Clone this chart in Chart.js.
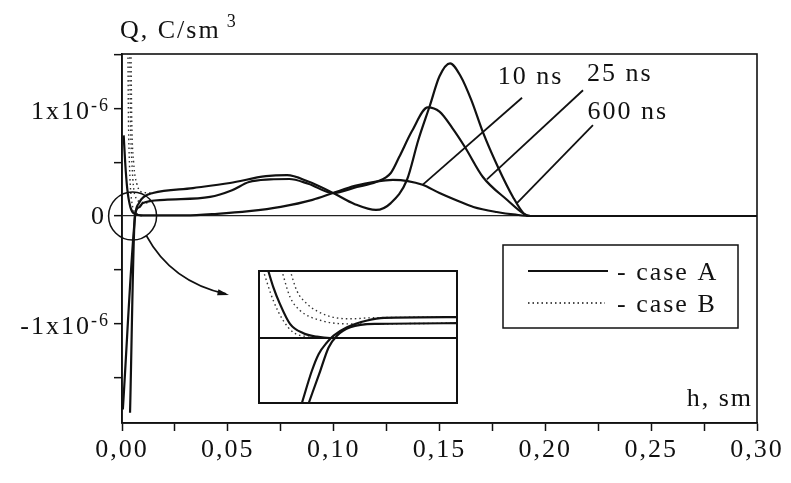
<!DOCTYPE html>
<html>
<head>
<meta charset="utf-8">
<script src="https://cdn.jsdelivr.net/npm/chart.js@4.4.1/dist/chart.umd.min.js"></script>
<style>
    html, body { margin: 0; padding: 0; background: #fff; }
    #wrap { position: relative; width: 791px; height: 483px; }
    #mainChart { position: absolute; left: 0; top: 0; }
    #insetChart { position: absolute; }
</style>
</head>
<body>
<div id="wrap">
    <canvas id="mainChart" width="791" height="483"></canvas>
    <canvas id="insetChart" width="200" height="134"></canvas>
</div>
<script>
// x: h, sm   y: Q in units of 1e-6 C/sm3
const xTickValues = [0, 0.025, 0.05, 0.075, 0.10, 0.125, 0.15, 0.175, 0.20, 0.225, 0.25, 0.275, 0.30];
const xTickLabels = ['0,00', '', '0,05', '', '0,10', '', '0,15', '', '0,20', '', '0,25', '', '0,30'];
const yTickValues = [-1.5, -1, -0.5, 0, 0.5, 1, 1.5];
const yLabelBase = ['', '-1x10', '', '0', '', '1x10', ''];
const yLabelExp = ['', '-6', '', '', '', '-6', ''];

// case A, 10 ns
const h10 = [0.0008, 0.0015, 0.0025, 0.004, 0.006, 0.01, 0.03, 0.045, 0.06, 0.075, 0.09, 0.0997, 0.11, 0.12, 0.128, 0.135, 0.142, 0.15, 0.16, 0.166, 0.177, 0.186, 0.193, 0.30];
const q10 = [0.75, 0.5, 0.25, 0.08, 0.02, 0.005, 0.005, 0.02, 0.045, 0.085, 0.15, 0.214, 0.28, 0.32, 0.335, 0.325, 0.29, 0.214, 0.13, 0.084, 0.037, 0.012, 0, 0];

// case A, 25 ns
const h25 = [0.0038, 0.0061, 0.008, 0.0099, 0.02, 0.0416, 0.052, 0.06, 0.07, 0.079, 0.088, 0.0997, 0.111, 0.12, 0.127, 0.131, 0.137, 0.1445, 0.15, 0.156, 0.162, 0.1705, 0.182, 0.19, 0.193, 0.30];
const q25 = [-1.83, 0, 0.08, 0.12, 0.15, 0.177, 0.24, 0.316, 0.34, 0.344, 0.30, 0.214, 0.27, 0.316, 0.40, 0.55, 0.79, 1.01, 0.97, 0.82, 0.642, 0.363, 0.149, 0.019, 0, 0];

// case A, 600 ns
const h600 = [0.0004, 0.0062, 0.008, 0.0105, 0.0146, 0.0335, 0.051, 0.068, 0.078, 0.088, 0.0997, 0.11, 0.12, 0.127, 0.1346, 0.14, 0.1455, 0.15, 0.155, 0.16, 0.165, 0.1705, 0.1776, 0.1847, 0.19, 0.193, 0.30];
const q600 = [-1.8, 0, 0.12, 0.18, 0.214, 0.26, 0.307, 0.37, 0.38, 0.32, 0.214, 0.11, 0.056, 0.12, 0.335, 0.707, 1.03, 1.30, 1.42, 1.30, 1.08, 0.78, 0.456, 0.177, 0.019, 0, 0.0];

// case B near the origin
const hB1 = [0.0028, 0.003, 0.0035, 0.0045, 0.007, 0.01];
const qB1 = [1.6, 1.0, 0.5, 0.15, 0.02, 0];
const hB2 = [0.0036, 0.004, 0.0048, 0.006, 0.009, 0.012];
const qB2 = [1.6, 0.9, 0.45, 0.2, 0.13, 0.12];
const hB3 = [0.0042, 0.0046, 0.0055, 0.007, 0.01, 0.0146];
const qB3 = [1.6, 0.9, 0.5, 0.3, 0.22, 0.214];

// inset (magnified view of the circled region)
const insetZeroX = [0, 100];
const insetZeroY = [0, 0];
const insetA1x = [5.0, 7.6, 10.9, 16, 22.7, 29.4, 36.1, 100];
const insetA1y = [101, 76, 51, 21, 7, 2, 0, 0];
const insetA2x = [21.8, 26.9, 30.3, 34.5, 37.8, 44.5, 54.6, 63, 100];
const insetA2y = [-98, -49, -24, -6.5, 3.5, 16, 26, 30, 31];
const insetA3x = [25.2, 31.1, 35.3, 39.5, 46.2, 59.7, 100];
const insetA3y = [-98, -49, -14, 3.5, 16, 21, 22];
const insetB1x = [2.5, 7.6, 12.6, 17.6, 24.4, 32.8, 100];
const insetB1y = [101, 56, 26, 8.5, 2, 0, 0];
const insetB2x = [11.8, 16, 21, 32.8, 46.2, 100];
const insetB2y = [101, 61, 41, 25, 21, 22];
const insetB3x = [16, 19.3, 24.4, 34.5, 46.2, 56.3, 100];
const insetB3y = [101, 71, 51, 33.5, 28.5, 30, 31];

// curve labels: leader start (on curve), leader end, text centre
const annLabels = ['10 ns', '25 ns', '600 ns'];
const annStart = [[0.142, 0.29], [0.1724, 0.34], [0.1866, 0.12]];
const annEnd = [[0.189, 1.10], [0.2178, 1.17], [0.2225, 0.846]];
const annText = [[0.193, 1.29], [0.2352, 1.32], [0.239, 0.967]];

const INK = '#111';
const SERIF = "'Liberation Serif', 'Times New Roman', serif";
const INSET = { left: 258, top: 270, width: 200, height: 134 };

Chart.defaults.font.family = SERIF;
Chart.defaults.color = INK;

function pts(xs, ys) {
    return xs.map((v, i) => ({ x: v, y: ys[i] }));
}

function solid(label, xs, ys) {
    return { label: label, data: pts(xs, ys), borderColor: INK, borderWidth: 2.2, pointRadius: 0, fill: false, cubicInterpolationMode: 'monotone' };
}

function dotted(label, xs, ys) {
    return { label: label, data: pts(xs, ys), borderColor: '#333', borderWidth: 1.4, borderDash: [1.5, 3], pointRadius: 0, fill: false, cubicInterpolationMode: 'monotone' };
}

const mainDecor = {
    id: 'mainDecor',
    beforeDraw(chart) {
        chart.ctx.letterSpacing = '2px';
    },
    afterDraw(chart) {
        const { ctx, chartArea: a, scales: { x, y } } = chart;
        ctx.save();
        ctx.letterSpacing = '2px';
        ctx.strokeStyle = INK;
        ctx.fillStyle = INK;
        ctx.lineWidth = 1.6;
        ctx.strokeRect(a.left, a.top, a.right - a.left, a.bottom - a.top);

        // y tick labels with superscripts
        yTickValues.forEach((v, i) => {
            if (!yLabelBase[i]) return;
            const py = y.getPixelForValue(v);
            let right = a.left - 14;
            ctx.textAlign = 'right';
            if (yLabelExp[i]) {
                ctx.font = '18px ' + SERIF;
                ctx.fillText(yLabelExp[i], right + 2, py + 3);
                right -= ctx.measureText(yLabelExp[i]).width;
                ctx.font = '26px ' + SERIF;
                ctx.fillText(yLabelBase[i], right + 2, py + 11);
            } else {
                ctx.font = '26px ' + SERIF;
                ctx.fillText(yLabelBase[i], right - 2, py + 8);
            }
        });

        // axis titles
        ctx.textAlign = 'left';
        ctx.font = '26px ' + SERIF;
        ctx.fillText('Q, C/sm', a.left - 2, a.top - 16);
        const tw = ctx.measureText('Q, C/sm').width;
        ctx.font = '18px ' + SERIF;
        ctx.fillText('3', a.left - 2 + tw + 6, a.top - 27);
        ctx.textAlign = 'right';
        ctx.font = '26px ' + SERIF;
        ctx.fillText('h, sm', a.right - 4, a.bottom - 17);

        // curve labels with leader lines
        ctx.lineWidth = 1.8;
        annLabels.forEach((t, i) => {
            ctx.beginPath();
            ctx.moveTo(x.getPixelForValue(annStart[i][0]), y.getPixelForValue(annStart[i][1]));
            ctx.lineTo(x.getPixelForValue(annEnd[i][0]), y.getPixelForValue(annEnd[i][1]));
            ctx.stroke();
            ctx.textAlign = 'center';
            ctx.textBaseline = 'middle';
            ctx.fillText(t, x.getPixelForValue(annText[i][0]), y.getPixelForValue(annText[i][1]));
        });
        ctx.textBaseline = 'alphabetic';

        // legend box
        const lb = { left: a.right - 254, top: a.top + 191, w: 235, h: 83 };
        ctx.lineWidth = 1.5;
        ctx.strokeRect(lb.left, lb.top, lb.w, lb.h);
        ctx.textAlign = 'left';
        ctx.lineWidth = 1.8;
        ctx.beginPath();
        ctx.moveTo(lb.left + 25, lb.top + 26);
        ctx.lineTo(lb.left + 105, lb.top + 26);
        ctx.stroke();
        ctx.fillText('- case A', lb.left + 114, lb.top + 35);
        ctx.lineWidth = 1.3;
        ctx.setLineDash([1.5, 3]);
        ctx.beginPath();
        ctx.moveTo(lb.left + 25, lb.top + 58);
        ctx.lineTo(lb.left + 102, lb.top + 58);
        ctx.stroke();
        ctx.setLineDash([]);
        ctx.fillText('- case B', lb.left + 114, lb.top + 67);

        // circle around the origin and arrow to the inset
        const cx = x.getPixelForValue(0.005);
        const cy = y.getPixelForValue(0);
        const r = 24;
        ctx.lineWidth = 1.5;
        ctx.beginPath();
        ctx.arc(cx, cy, r, 0, Math.PI * 2);
        ctx.stroke();
        const ang = 55 * Math.PI / 180;
        const sx = cx + r * Math.cos(ang), sy = cy + r * Math.sin(ang);
        const ex = INSET.left - 32, ey = INSET.top + 24;
        const qx = sx + 25, qy = ey - 12;
        ctx.lineWidth = 1.8;
        ctx.beginPath();
        ctx.moveTo(sx, sy);
        ctx.quadraticCurveTo(qx, qy, ex, ey);
        ctx.stroke();
        const dir = Math.atan2(ey - qy, ex - qx);
        ctx.beginPath();
        ctx.moveTo(ex + 3, ey + 1);
        ctx.lineTo(ex - 9 * Math.cos(dir - 0.35), ey - 9 * Math.sin(dir - 0.35));
        ctx.lineTo(ex - 9 * Math.cos(dir + 0.35), ey - 9 * Math.sin(dir + 0.35));
        ctx.closePath();
        ctx.fill();
        ctx.restore();
    }
};

new Chart(document.getElementById('mainChart'), {
    type: 'line',
    data: {
        datasets: [
            solid('10 ns', h10, q10),
            solid('25 ns', h25, q25),
            solid('600 ns', h600, q600),
            dotted('case B 10 ns', hB1, qB1),
            dotted('case B 25 ns', hB2, qB2),
            dotted('case B 600 ns', hB3, qB3)
        ]
    },
    options: {
        responsive: false,
        animation: false,
        events: [],
        layout: { padding: { left: 0, right: 34, top: 54, bottom: 0 } },
        plugins: { legend: { display: false }, tooltip: { enabled: false } },
        scales: {
            x: {
                type: 'linear',
                min: 0,
                max: 0.30,
                afterBuildTicks: (scale) => { scale.ticks = xTickValues.map(v => ({ value: v })); },
                afterFit: (scale) => { scale.height = 60; },
                border: { color: INK, width: 1.6 },
                grid: { drawOnChartArea: false, tickLength: 8, tickColor: INK, tickWidth: 1.5 },
                ticks: {
                    autoSkip: false,
                    maxRotation: 0,
                    padding: 4,
                    color: INK,
                    font: { size: 26, family: SERIF },
                    callback: (v, i) => xTickLabels[i]
                }
            },
            y: {
                type: 'linear',
                min: -1.926,
                max: 1.507,
                afterBuildTicks: (scale) => { scale.ticks = yTickValues.map(v => ({ value: v })); },
                afterFit: (scale) => { scale.width = 122; },
                border: { color: INK, width: 1.6 },
                grid: {
                    color: (c) => (c.tick && c.tick.value === 0 ? '#222' : 'rgba(0,0,0,0)'),
                    lineWidth: 1.3,
                    tickLength: 8,
                    tickColor: INK,
                    tickWidth: 1.5
                },
                ticks: { callback: () => '' }
            }
        }
    },
    plugins: [mainDecor]
});

// inset
const insetCanvas = document.getElementById('insetChart');
insetCanvas.style.left = INSET.left + 'px';
insetCanvas.style.top = INSET.top + 'px';

const insetBorder = {
    id: 'insetBorder',
    afterDraw(chart) {
        const ctx = chart.ctx;
        ctx.save();
        ctx.strokeStyle = INK;
        ctx.lineWidth = 2;
        ctx.strokeRect(1, 1, chart.width - 2, chart.height - 2);
        ctx.restore();
    }
};

new Chart(insetCanvas, {
    type: 'line',
    data: {
        datasets: [
            solid('zero', insetZeroX, insetZeroY),
            solid('A1', insetA1x, insetA1y),
            solid('A2', insetA2x, insetA2y),
            solid('A3', insetA3x, insetA3y),
            dotted('B1', insetB1x, insetB1y),
            dotted('B2', insetB2x, insetB2y),
            dotted('B3', insetB3x, insetB3y)
        ]
    },
    options: {
        responsive: false,
        animation: false,
        events: [],
        layout: { padding: 0 },
        plugins: { legend: { display: false }, tooltip: { enabled: false } },
        scales: {
            x: { type: 'linear', min: 0, max: 100, display: false },
            y: { type: 'linear', min: -98, max: 101, display: false }
        }
    },
    plugins: [insetBorder]
});
</script>
</body>
</html>
